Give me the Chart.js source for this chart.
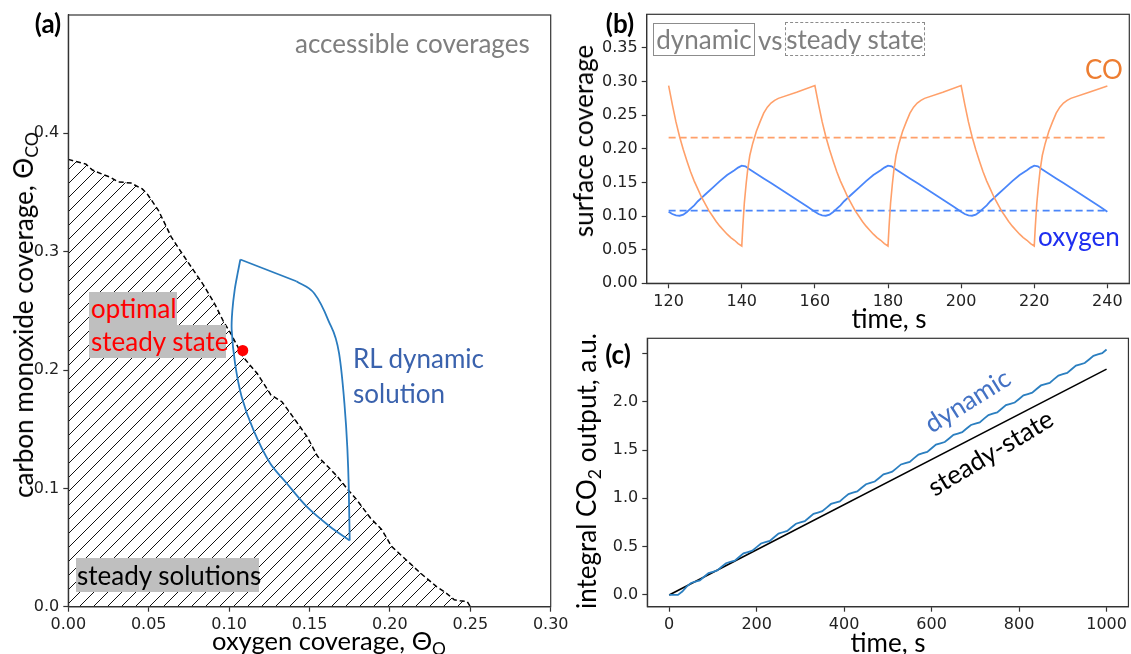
<!DOCTYPE html>
<html><head><meta charset="utf-8">
<script src="https://cdn.jsdelivr.net/npm/chart.js@4.4.1/dist/chart.umd.min.js"></script>
<style>
html,body{margin:0;padding:0;background:#fff;}
#fig{position:relative;width:1131px;height:654px;overflow:hidden;background:#fff;}
canvas{position:absolute;left:0;top:0;}
.t{position:absolute;font-family:'Lato','Noto Sans',sans-serif;font-size:26px;line-height:1;white-space:nowrap;z-index:5;}
.c{transform:translate(-50%,-50%);}
.l{transform:translateY(-50%);}
.b{font-weight:bold;}
.box{position:absolute;box-sizing:border-box;font-family:'Lato','Noto Sans',sans-serif;font-size:26px;white-space:nowrap;z-index:5;}
sub{font-size:0.68em;line-height:0;vertical-align:-0.28em;}
</style></head>
<body>
<div id="fig">
<canvas id="ca" width="1131" height="654"></canvas>
<canvas id="cb" width="1131" height="654"></canvas>
<canvas id="cc" width="1131" height="654"></canvas>

<!-- panel (a) texts -->
<div class="t c b" style="left:48px;top:23px;">(a)</div>
<div class="t l" style="left:295px;top:43px;color:#7f7f7f;">accessible coverages</div>
<div class="box" style="left:89px;top:292px;width:88px;height:33px;line-height:33px;background:#bfbfbf;color:#ff0000;padding-left:2px;">optimal</div>
<div class="box" style="left:89px;top:325px;width:137px;height:33px;line-height:33px;background:#bfbfbf;color:#ff0000;padding-left:2px;">steady state</div>
<div class="t l" style="left:353px;top:358px;color:#3a62ad;">RL dynamic</div>
<div class="t l" style="left:353px;top:393px;color:#3a62ad;">solution</div>
<div class="box" style="left:76px;top:558px;width:183px;height:34px;line-height:34px;background:#bfbfbf;color:#000;padding-left:1px;">steady solutions</div>
<div class="t l" style="left:212px;top:641px;color:#000;font-size:25.5px;">oxygen coverage, Θ<sub>O</sub></div>
<div class="t c" style="left:23px;top:315px;transform:translate(-50%,-50%) rotate(-90deg);color:#000;">carbon monoxide coverage, Θ<sub>CO</sub></div>

<!-- panel (b) texts -->
<div class="t c b" style="left:620px;top:23px;">(b)</div>
<div class="box" style="left:653px;top:23px;width:102px;height:33px;line-height:31px;border:1.5px solid #8c8c8c;color:#7f7f7f;text-align:center;">dynamic</div>
<div class="t l" style="left:758px;top:40px;color:#7f7f7f;">vs</div>
<div class="box" style="left:785px;top:22px;width:140px;height:34px;line-height:32px;border:1.5px dashed #8c8c8c;color:#7f7f7f;text-align:center;">steady state</div>
<div class="t l" style="left:1085px;top:69px;color:#ed7d31;">CO</div>
<div class="t l" style="left:1038px;top:236px;color:#1f2ff0;">oxygen</div>
<div class="t c" style="left:583px;top:141px;transform:translate(-50%,-50%) rotate(-90deg);color:#000;">surface coverage</div>
<div class="t c" style="left:889px;top:318px;color:#000;">time, s</div>

<!-- panel (c) texts -->
<div class="t c b" style="left:618px;top:354px;">(c)</div>
<div class="t c" style="left:586px;top:471px;transform:translate(-50%,-50%) rotate(-90deg);color:#000;">integral CO<sub>2</sub> output, a.u.</div>
<div class="t c" style="left:888px;top:642px;color:#000;">time, s</div>
<div class="t c" style="left:967px;top:400px;transform:translate(-50%,-50%) rotate(-32deg);color:#4472c4;">dynamic</div>
<div class="t c" style="left:990px;top:452px;transform:translate(-50%,-50%) rotate(-31deg);color:#000;">steady-state</div>
</div>

<script>
// ---------------- Panel (a): accessible coverages ----------------
const boundaryO  = [0, 0.011, 0.015, 0.022, 0.026, 0.031, 0.039, 0.046, 0.049, 0.056, 0.061, 0.064, 0.071, 0.0765, 0.084, 0.091, 0.0965, 0.101, 0.1087, 0.1175, 0.126, 0.133, 0.1396, 0.1485, 0.155, 0.1617, 0.1673, 0.174, 0.1794, 0.188, 0.195, 0.201, 0.21, 0.219, 0.229, 0.235, 0.240, 0.2437, 0.248, 0.25];
const boundaryCO = [0.378, 0.374, 0.369, 0.365, 0.363, 0.359, 0.358, 0.353, 0.349, 0.335, 0.321, 0.3125, 0.298, 0.287, 0.272, 0.256, 0.241, 0.231, 0.211, 0.197, 0.179, 0.173, 0.1606, 0.1437, 0.127, 0.118, 0.11, 0.0987, 0.0903, 0.0748, 0.065, 0.051, 0.0397, 0.0284, 0.017, 0.0115, 0.0059, 0.005, 0.0045, 0.0];
// RL dynamic limit cycle, split in three pieces (straight top edge, right arc, left arc)
const loopTopO    = [0.107, 0.1418];
const loopTopCO   = [0.2934, 0.275];
const loopRightO  = [0.1418, 0.153, 0.1617, 0.1684, 0.1717, 0.1735, 0.1744, 0.175];
const loopRightCO = [0.275, 0.2647, 0.242, 0.214, 0.172, 0.135, 0.1015, 0.056];
const loopLeftO   = [0.175, 0.1628, 0.1483, 0.1358, 0.1255, 0.1151, 0.1078, 0.1037, 0.1016, 0.102, 0.1035, 0.1053, 0.107];
const loopLeftCO  = [0.056, 0.0676, 0.0845, 0.1043, 0.1212, 0.1494, 0.1775, 0.2057, 0.2339, 0.25, 0.268, 0.2816, 0.2934];
const optimalO  = [0.1085];
const optimalCO = [0.2165];
const aXTicks = [0, 0.05, 0.10, 0.15, 0.20, 0.25, 0.30];
const aYTicks = [0.0, 0.1, 0.2, 0.3, 0.4];

// ---------------- Panel (b): surface coverage vs time ----------------
const timeCO = [120,121,122,123,124,125,126,127,128,129,130,131,132,133,134,135,136,137,138,139,140,140.3,140.7,141.2,141.6,142.2,143,144,145,146,147,148,149,150,155,
                160,161,162,163,164,165,166,167,168,169,170,171,172,173,174,175,176,177,178,179,180,180.3,180.7,181.2,181.6,182.2,183,184,185,186,187,188,189,190,195,
                200,201,202,203,204,205,206,207,208,209,210,211,212,213,214,215,216,217,218,219,220,220.3,220.7,221.2,221.6,222.2,223,224,225,226,227,228,229,230,235,240];
const coDynamic = [0.294,0.266,0.240,0.218,0.199,0.182,0.166,0.152,0.140,0.128,0.118,0.108,0.100,0.092,0.085,0.079,0.073,0.068,0.064,0.059,0.0555,0.085,0.119,0.148,0.168,0.190,0.208,0.226,0.240,0.253,0.262,0.268,0.272,0.275,0.284,
                   0.294,0.266,0.240,0.218,0.199,0.182,0.166,0.152,0.140,0.128,0.118,0.108,0.100,0.092,0.085,0.079,0.073,0.068,0.064,0.059,0.0555,0.085,0.119,0.148,0.168,0.190,0.208,0.226,0.240,0.253,0.262,0.268,0.272,0.275,0.284,
                   0.294,0.266,0.240,0.218,0.199,0.182,0.166,0.152,0.140,0.128,0.118,0.108,0.100,0.092,0.085,0.079,0.073,0.068,0.064,0.059,0.0555,0.085,0.119,0.148,0.168,0.190,0.208,0.226,0.240,0.253,0.262,0.268,0.272,0.275,0.284,0.2935];
const timeO = [120,121,122,123,124,125,126,127,128,129,130,132,134,136,138,139,140,141,142,144,146,148,150,152,154,156,158,
               160,161,162,163,164,165,166,167,168,169,170,172,174,176,178,179,180,181,182,184,186,188,190,192,194,196,198,
               200,201,202,203,204,205,206,207,208,209,210,212,214,216,218,219,220,221,222,224,226,228,230,232,234,236,238,240];
const oDynamic = [0.1065,0.103,0.101,0.1005,0.102,0.106,0.111,0.116,0.122,0.127,0.132,0.142,0.152,0.161,0.168,0.172,0.175,0.174,0.170,0.163,0.156,0.149,0.142,0.135,0.128,0.121,0.114,
                  0.1065,0.103,0.101,0.1005,0.102,0.106,0.111,0.116,0.122,0.127,0.132,0.142,0.152,0.161,0.168,0.172,0.175,0.174,0.170,0.163,0.156,0.149,0.142,0.135,0.128,0.121,0.114,
                  0.1065,0.103,0.101,0.1005,0.102,0.106,0.111,0.116,0.122,0.127,0.132,0.142,0.152,0.161,0.168,0.172,0.175,0.174,0.170,0.163,0.156,0.149,0.142,0.135,0.128,0.121,0.114,0.1065];
const steadyTime = [120, 240];
const coSteady = [0.2165, 0.2165];
const oSteady  = [0.108, 0.108];
const bXTicks = [120, 140, 160, 180, 200, 220, 240];
const bYTicks = [0.00, 0.05, 0.10, 0.15, 0.20, 0.25, 0.30, 0.35];

// ---------------- Panel (c): integral CO2 output ----------------
const timeC = [0,10,20,30,40,50,60,70,80,90,100,110,120,130,140,150,160,170,180,190,200,210,220,230,240,250,260,270,280,290,300,310,320,330,340,350,360,370,380,390,400,
               410,420,430,440,450,460,470,480,490,500,510,520,530,540,550,560,570,580,590,600,610,620,630,640,650,660,670,680,690,700,
               710,720,730,740,750,760,770,780,790,800,810,820,830,840,850,860,870,880,890,900,910,920,930,940,950,960,970,980,990,1000];
const co2Dynamic = [0,0,0,0.035,0.086,0.124,0.137,0.151,0.188,0.226,0.239,0.253,0.291,0.328,0.342,0.355,0.393,0.430,0.444,0.458,0.495,0.533,0.546,0.560,0.597,0.635,0.649,0.662,0.700,0.737,0.751,0.764,0.802,0.840,0.853,0.867,0.904,0.942,0.955,0.969,1.007,
                    1.044,1.058,1.071,1.109,1.146,1.160,1.174,1.211,1.249,1.262,1.276,1.313,1.351,1.365,1.378,1.416,1.453,1.467,1.480,1.518,1.556,1.569,1.583,1.620,1.658,1.671,1.685,1.723,1.760,1.774,
                    1.787,1.825,1.862,1.876,1.890,1.927,1.965,1.978,1.992,2.029,2.067,2.080,2.094,2.132,2.169,2.183,2.196,2.234,2.271,2.285,2.299,2.336,2.374,2.387,2.401,2.438,2.476,2.490,2.503,2.541];
const timeSS = [0, 1000];
const co2Steady = [0, 2.338];
const cXTicks = [0, 200, 400, 600, 800, 1000];
const cYTicks = [0.0, 0.5, 1.0, 1.5, 2.0, 2.5];

// ---------------- helpers ----------------
const pts = (xs, ys) => xs.map((x, i) => ({x: x, y: ys[i]}));

function hatch() {
  const s = 14, c = document.createElement('canvas');
  c.width = s; c.height = s;
  const g = c.getContext('2d');
  g.strokeStyle = '#111'; g.lineWidth = 1;
  g.beginPath();
  g.moveTo(-2, s + 2); g.lineTo(s + 2, -2);
  g.moveTo(-2, 2); g.lineTo(2, -2);
  g.moveTo(s - 2, s + 2); g.lineTo(s + 2, s - 2);
  g.stroke();
  return g.createPattern(c, 'repeat');
}

function axis(min, max, ticks, fmt, isY) {
  return {
    type: 'linear', min: min, max: max, position: isY ? 'left' : 'bottom',
    afterBuildTicks: s => { s.ticks = ticks.map(v => ({value: v})); },
    afterFit: s => { if (isY) s.width = 60; else s.height = 40; },
    ticks: { callback: v => fmt(v), font: {family: "'DejaVu Sans'", size: 16}, color: '#222', padding: 4, autoSkip: false, maxRotation: 0, minRotation: 0 },
    grid: { display: true, drawOnChartArea: false, drawTicks: true, tickLength: 5, tickColor: '#333', tickWidth: 1.2, color: '#333' },
    border: { display: true, color: '#333', width: 1.2 },
    title: { display: false }
  };
}

const frame = {
  id: 'frame',
  afterDatasetsDraw(chart) {
    const {ctx, chartArea: a} = chart;
    ctx.save();
    ctx.strokeStyle = '#333'; ctx.lineWidth = 1.2;
    ctx.strokeRect(a.left, a.top, a.right - a.left, a.bottom - a.top);
    ctx.restore();
  }
};

function base(pad, scales) {
  return {
    responsive: false, animation: false, events: [],
    layout: { padding: pad },
    plugins: { legend: {display: false}, tooltip: {enabled: false} },
    scales: scales
  };
}

const loopStyle = { showLine: true, borderColor: '#2a7cbf', borderWidth: 1.8, pointRadius: 0, fill: false, order: 1 };

// ---- Chart (a)
new Chart(document.getElementById('ca'), {
  type: 'scatter',
  data: { datasets: [
    { data: pts(optimalO, optimalCO), showLine: false, pointRadius: 5.5, pointBackgroundColor: '#ff0000', pointBorderWidth: 0, order: 0 },
    Object.assign({ data: pts(loopTopO, loopTopCO), tension: 0 }, loopStyle),
    Object.assign({ data: pts(loopRightO, loopRightCO), cubicInterpolationMode: 'monotone' }, loopStyle),
    Object.assign({ data: pts(loopLeftO, loopLeftCO), tension: 0.3 }, loopStyle),
    { data: pts(boundaryO, boundaryCO), showLine: true, borderColor: '#000', borderWidth: 1.5, borderDash: [5, 3], pointRadius: 0, fill: 'origin', backgroundColor: hatch(), tension: 0, order: 2 }
  ]},
  options: base({left: 8.3, right: 580.3, top: 15, bottom: 7.3}, {
    x: axis(0, 0.3, aXTicks, v => v.toFixed(2), false),
    y: axis(0, 0.5, aYTicks, v => v.toFixed(1), true)
  }),
  plugins: [frame]
});

// ---- Chart (b)
new Chart(document.getElementById('cb'), {
  type: 'scatter',
  data: { datasets: [
    { data: pts(timeCO, coDynamic), showLine: true, borderColor: '#ffa06a', borderWidth: 1.6, pointRadius: 0, tension: 0 },
    { data: pts(timeO, oDynamic), showLine: true, borderColor: '#4a86fa', borderWidth: 1.8, pointRadius: 0, tension: 0 },
    { data: pts(steadyTime, coSteady), showLine: true, borderColor: '#ffa06a', borderWidth: 1.8, borderDash: [7, 4], pointRadius: 0 },
    { data: pts(steadyTime, oSteady), showLine: true, borderColor: '#4a86fa', borderWidth: 1.8, borderDash: [7, 4], pointRadius: 0 }
  ]},
  options: base({left: 586.7, right: 1.7, top: 14.3, bottom: 330.7}, {
    x: axis(114, 246, bXTicks, v => v.toFixed(0), false),
    y: axis(0, 0.4, bYTicks, v => v.toFixed(2), true)
  }),
  plugins: [frame]
});

// ---- Chart (c)
new Chart(document.getElementById('cc'), {
  type: 'scatter',
  data: { datasets: [
    { data: pts(timeC, co2Dynamic), showLine: true, borderColor: '#2b7fc0', borderWidth: 1.8, pointRadius: 0, tension: 0 },
    { data: pts(timeSS, co2Steady), showLine: true, borderColor: '#000', borderWidth: 1.6, pointRadius: 0 }
  ]},
  options: base({left: 587.3, right: 1.7, top: 338.3, bottom: 7.3}, {
    x: axis(-50, 1050, cXTicks, v => v.toFixed(0), false),
    y: axis(-0.122, 2.657, cYTicks, v => (v > 2.4 ? '' : v.toFixed(1)), true)
  }),
  plugins: [frame]
});
</script>
</body></html>
